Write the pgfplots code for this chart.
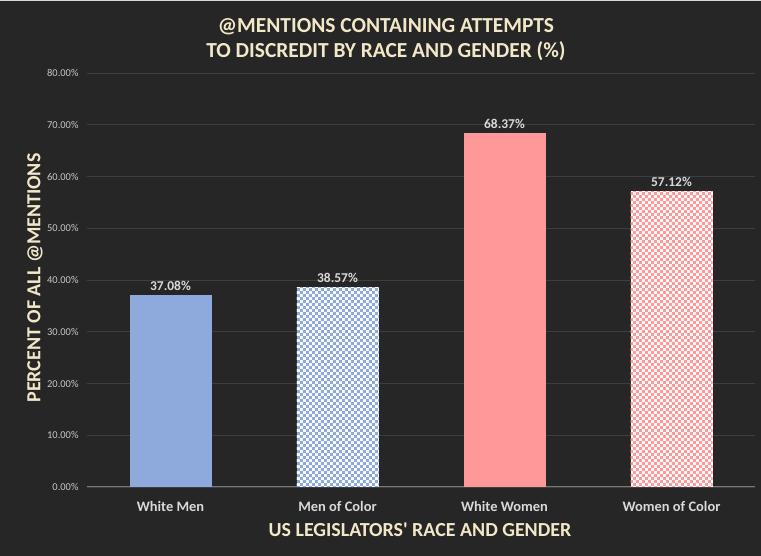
\documentclass[border=0pt]{standalone}
\usepackage{pgfplots}
\pgfplotsset{compat=1.18}
\usepackage{fontspec}
\setmainfont{Carlito}
\usetikzlibrary{patterns.meta}

\definecolor{bg}{RGB}{38,38,38}
\definecolor{gridc}{RGB}{62,62,62}
\definecolor{axisc}{RGB}{120,120,120}
\definecolor{titlec}{RGB}{242,232,200}
\definecolor{tickc}{RGB}{200,200,200}
\definecolor{catc}{RGB}{217,217,217}
\definecolor{blueC}{RGB}{142,169,219}
\definecolor{pinkC}{RGB}{255,153,153}

\tikzdeclarepattern{
  name=checks,
  type=uncolored,
  bounding box={(0,0) and (6.4bp,6.4bp)},
  tile size={(6.4bp,6.4bp)},
  code={
    \fill (0,0) rectangle (3.2bp,3.2bp);
    \fill (3.2bp,3.2bp) rectangle (6.4bp,6.4bp);
  }
}

\begin{document}
\begin{tikzpicture}
\fill[bg] (0,0) rectangle (761bp,556bp);
\fill[black!15] (0,554.5bp) rectangle (761bp,556bp);
\begin{axis}[
  at={(87bp,69bp)}, anchor=south west,
  scale only axis, width=668bp, height=414bp,
  xmin=-0.5, xmax=3.5, ymin=0, ymax=80,
  axis line style={draw=none},
  major tick length=0pt,
  /pgf/number format/assume math mode=true,
  ymajorgrids, grid style={gridc, line width=0.8bp},
  ytick={0,10,...,80},
  yticklabels={0.00\%,10.00\%,20.00\%,30.00\%,40.00\%,50.00\%,60.00\%,70.00\%,80.00\%},
  yticklabel style={font=\fontsize{10.5}{11}\selectfont, text=tickc, xshift=-5bp},
  xtick={0,1,2,3},
  xticklabels={White Men,Men of Color,White Women,Women of Color},
  xticklabel style={font=\bfseries\fontsize{14.5}{15}\selectfont, text=catc, yshift=-11bp},
  ybar, bar width=82bp, bar shift=0pt,
  nodes near coords={\pgfmathprintnumber[fixed,fixed zerofill,precision=2]{\pgfplotspointmeta}\%},
  nodes near coords style={font=\bfseries\fontsize{13.5}{14}\selectfont, text=catc, anchor=south, yshift=1bp},
]
\draw[axisc, line width=1.3bp] (axis cs:-0.5,0) -- (axis cs:3.5,0);
\addplot[fill=blueC, draw=none] coordinates {(0,37.08)};
\addplot[fill=white, draw=none, postaction={pattern=checks, pattern color=blueC}] coordinates {(1,38.57)};
\addplot[fill=pinkC, draw=none] coordinates {(2,68.37)};
\addplot[fill=white, draw=none, postaction={pattern=checks, pattern color=pinkC}] coordinates {(3,57.12)};
\end{axis}
\node[text=titlec, font=\bfseries\fontsize{21.5}{24}\selectfont] at (386bp,529bp) {@MENTIONS CONTAINING ATTEMPTS};
\node[text=titlec, font=\bfseries\fontsize{21.5}{24}\selectfont] at (386bp,505bp) {TO DISCREDIT BY RACE AND GENDER (\%)};
\node[text=titlec, font=\bfseries\fontsize{20}{22}\selectfont, rotate=90] at (35bp,278bp) {PERCENT OF ALL @MENTIONS};
\node[text=titlec, font=\bfseries\fontsize{20}{22}\selectfont] at (420bp,26bp) {US LEGISLATORS\textquotesingle{} RACE AND GENDER};
\pgfresetboundingbox
\useasboundingbox (0,0) rectangle (761bp,556bp);
\end{tikzpicture}
\end{document}
